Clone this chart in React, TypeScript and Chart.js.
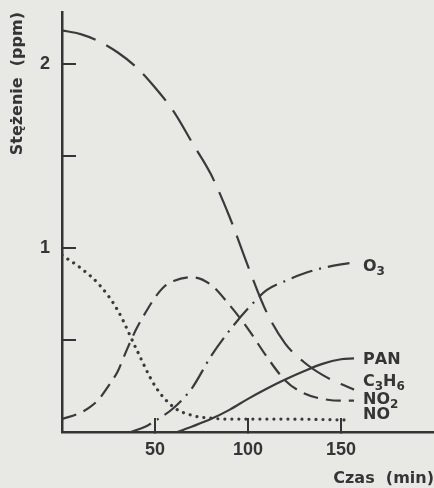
import React, { useEffect, useRef } from 'react';
import { Chart, registerables } from 'chart.js';

Chart.register(...registerables);

// ---- data (time in min, concentration in ppm) ----
const c3h6Times = [0, 10, 20, 30, 40, 50, 60, 70, 80, 90, 100, 110, 120, 130, 140, 150, 157];
const c3h6Values = [2.18, 2.16, 2.12, 2.06, 1.98, 1.87, 1.74, 1.57, 1.4, 1.17, 0.9, 0.65, 0.48, 0.38, 0.31, 0.26, 0.23];

const no2Times = [0, 10, 15, 20, 25, 30, 35, 40, 45, 50, 55, 60, 70, 80, 90, 100, 110, 120, 130, 140, 150, 157];
const no2Values = [0.07, 0.105, 0.135, 0.18, 0.25, 0.33, 0.45, 0.56, 0.65, 0.73, 0.79, 0.82, 0.84, 0.8, 0.69, 0.56, 0.41, 0.28, 0.21, 0.18, 0.17, 0.17];

const noTimes = [0, 10, 20, 30, 40, 50, 60, 70, 80, 90, 100, 120, 140, 153];
const noValues = [0.96, 0.89, 0.8, 0.66, 0.45, 0.25, 0.135, 0.09, 0.075, 0.07, 0.07, 0.07, 0.068, 0.065];

const o3Times = [37, 45, 50, 60, 70, 80, 90, 100, 110, 120, 130, 140, 150, 157];
const o3Values = [0, 0.03, 0.06, 0.13, 0.24, 0.41, 0.55, 0.67, 0.77, 0.82, 0.86, 0.89, 0.91, 0.92];

const panTimes = [62, 70, 80, 90, 100, 110, 120, 130, 140, 150, 157];
const panValues = [0, 0.03, 0.07, 0.12, 0.18, 0.235, 0.285, 0.33, 0.37, 0.395, 0.4];

const seriesNames = ['O_3', 'PAN', 'C_3H_6', 'NO_2', 'NO'];

const xTickValues = [50, 100, 150];
const yTickValues = [0.5, 1, 1.5, 2];
const yTickLabels = ['', '1', '', '2'];

const xTitle = 'Czas  (min)';
const yTitle = 'Stężenie  (ppm)';

// ---- styles ----
const INK = '#353535';
const LINE = '#3a3a3a';
const BG = '#e8e9e4';
const LABEL_FONT = 'bold 16px "DejaVu Sans", sans-serif';
const SUB_FONT = 'bold 12px "DejaVu Sans", sans-serif';
const labelDy = [4, 2, -8, -1, -5];

const pts = (t: number[], v: number[]) => t.map((x, i) => ({ x, y: v[i] }));

const endLabels = {
  id: 'endLabels',
  afterDatasetsDraw(chart: any) {
    const ctx = chart.ctx;
    let maxX = 0;
    chart.data.datasets.forEach((_: any, i: number) => {
      const m = chart.getDatasetMeta(i);
      const p = m.data[m.data.length - 1];
      if (p.x > maxX) maxX = p.x;
    });
    ctx.save();
    ctx.fillStyle = INK;
    ctx.textBaseline = 'middle';
    ctx.textAlign = 'left';
    chart.data.datasets.forEach((ds: any, i: number) => {
      const m = chart.getDatasetMeta(i);
      const p = m.data[m.data.length - 1];
      let x = maxX + 9;
      const y = p.y + labelDy[i];
      const text: string = ds.label;
      for (let k = 0; k < text.length; k++) {
        if (text[k] === '_') {
          k++;
          ctx.font = SUB_FONT;
          ctx.fillText(text[k], x, y + 5);
          x += ctx.measureText(text[k]).width;
        } else {
          ctx.font = LABEL_FONT;
          ctx.fillText(text[k], x, y);
          x += ctx.measureText(text[k]).width;
        }
      }
    });
    ctx.restore();
  },
};

const zeroPad = (s: any) => {
  s.paddingTop = 0;
  s.paddingBottom = 0;
  s.paddingLeft = 0;
  s.paddingRight = 0;
};

export default function App() {
  const ref = useRef<HTMLCanvasElement>(null);
  useEffect(() => {
    if (!ref.current) return;
    const base = {
      borderColor: LINE,
      borderWidth: 2.2,
      pointRadius: 0,
      fill: false,
      cubicInterpolationMode: 'monotone' as const,
    };
    const chart = new Chart(ref.current, {
      type: 'line',
      data: {
        datasets: [
          { ...base, label: seriesNames[0], data: pts(o3Times, o3Values), borderDash: [22, 7, 2, 7] },
          { ...base, label: seriesNames[1], data: pts(panTimes, panValues) },
          { ...base, label: seriesNames[2], data: pts(c3h6Times, c3h6Values), borderDash: [35, 12] },
          { ...base, label: seriesNames[3], data: pts(no2Times, no2Values), borderDash: [15, 8] },
          {
            ...base,
            label: seriesNames[4],
            data: pts(noTimes, noValues),
            borderDash: [0.01, 7],
            borderWidth: 3.2,
            borderCapStyle: 'round',
          },
        ],
      },
      options: {
        animation: false,
        responsive: false,
        layout: { padding: { top: 12, left: 0, right: 0, bottom: 0 } },
        plugins: { legend: { display: false }, tooltip: { enabled: false } },
        scales: {
          x: {
            type: 'linear',
            min: 0,
            max: 200,
            afterBuildTicks: (s: any) => {
              s.ticks = xTickValues.map((v) => ({ value: v }));
            },
            afterFit: (s: any) => {
              s.height = 56;
              zeroPad(s);
            },
            border: { display: true, color: INK, width: 2.5 },
            grid: { drawOnChartArea: false, drawTicks: true, tickLength: -14, color: INK, lineWidth: 2 },
            ticks: {
              padding: 21,
              color: INK,
              font: { family: '"Liberation Sans", sans-serif', size: 18, weight: 'bold' },
              callback: (v: any) => String(v),
              maxRotation: 0,
            },
            title: {
              display: true,
              text: xTitle,
              align: 'end',
              color: INK,
              padding: { top: 0, bottom: 0 },
              font: { family: '"DejaVu Sans", sans-serif', size: 16, weight: 'bold' },
            },
          },
          y: {
            type: 'linear',
            min: 0,
            max: 2.28,
            afterBuildTicks: (s: any) => {
              s.ticks = yTickValues.map((v) => ({ value: v }));
            },
            afterFit: (s: any) => {
              s.width = 62;
              zeroPad(s);
            },
            border: { display: true, color: INK, width: 2.5 },
            grid: { drawOnChartArea: false, drawTicks: true, tickLength: -14, color: INK, lineWidth: 2 },
            ticks: {
              padding: 26,
              color: INK,
              font: { family: '"Liberation Sans", sans-serif', size: 18, weight: 'bold' },
              callback: (v: any) => {
                const i = yTickValues.indexOf(Number(v));
                return i >= 0 ? yTickLabels[i] : '';
              },
            },
            title: {
              display: true,
              text: yTitle,
              align: 'end',
              color: INK,
              padding: { top: 8, bottom: 0 },
              font: { family: '"DejaVu Sans", sans-serif', size: 16, weight: 'bold' },
            },
          },
        },
      },
      plugins: [endLabels],
    } as any);
    return () => chart.destroy();
  }, []);

  return (
    <div style={{ position: 'fixed', left: 0, top: 0, width: 434, height: 488, background: BG }}>
      <canvas ref={ref} width={434} height={488} style={{ display: 'block' }} />
    </div>
  );
}
